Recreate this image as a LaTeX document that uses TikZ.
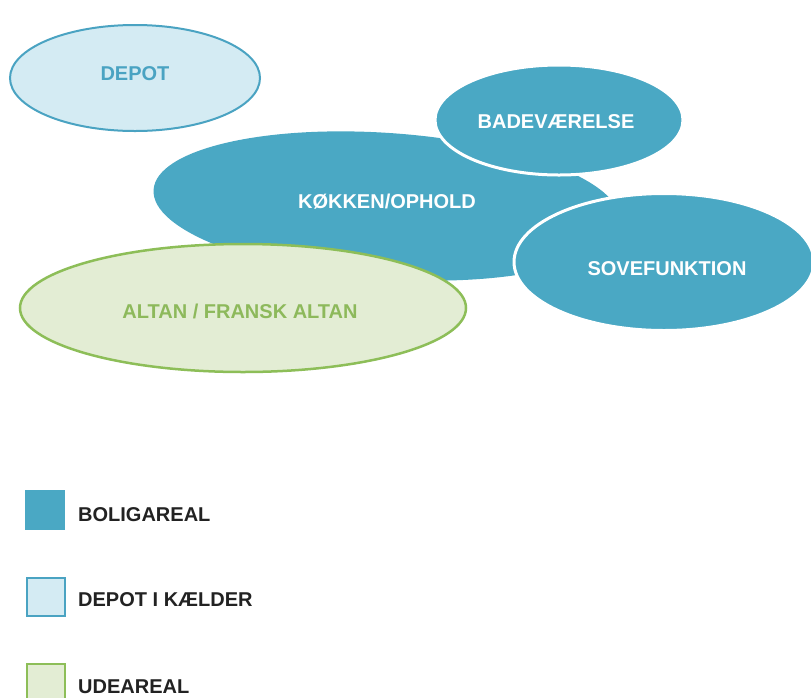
\documentclass[tikz,border=0pt]{standalone}
\usepackage{fontspec}
\setmainfont{Liberation Sans}
\usetikzlibrary{shapes.geometric}
\definecolor{bolig}{HTML}{4AA8C4}
\definecolor{depotfill}{HTML}{D4EBF3}
\definecolor{depotline}{HTML}{4AA3C2}
\definecolor{udefill}{HTML}{E3EDD4}
\definecolor{udeline}{HTML}{8DBE58}
\definecolor{udetext}{HTML}{8DB95B}
\definecolor{legtext}{HTML}{222222}
\tikzset{
  area/.style={ellipse, inner sep=0pt, outer sep=0pt},
  lbl/.style={font=\fontsize{20}{24}\selectfont\bfseries, anchor=base, inner sep=0pt},
  legbox/.style={minimum width=40pt, minimum height=40pt, inner sep=0pt, anchor=north west},
  legtxt/.style={font=\fontsize{20}{24}\selectfont\bfseries, text=legtext, anchor=base west, inner sep=0pt},
}
\begin{document}
\begin{tikzpicture}[x=1pt,y=-1pt]
\useasboundingbox (0,0) rectangle (811,697);
\clip (0,0) rectangle (811,697);
\fill[white] (0,0) rectangle (811,697);
% areas
\node[area, fill=depotfill, draw=depotline, line width=2pt, minimum width=250pt, minimum height=106pt] (depot) at (135,78) {};
\node[area, fill=bolig, minimum width=468pt, minimum height=146pt, rotate=-4] (kokken) at (387,206) {};
\node[area, fill=bolig, draw=white, line width=3pt, minimum width=248pt, minimum height=110pt] (bad) at (559,120) {};
\node[area, fill=bolig, draw=white, line width=3pt, minimum width=300pt, minimum height=137pt] (sove) at (664,262) {};
\node[area, fill=udefill, draw=udeline, line width=2.5pt, minimum width=446pt, minimum height=128pt] (altan) at (243,308) {};
% labels
\node[lbl, text=depotline] (depot-t) at (135,80) {DEPOT};
\node[lbl, text=white] (kokken-t) at (387,208) {KØKKEN/OPHOLD};
\node[lbl, text=white] (bad-t) at (556,128) {BADEVÆRELSE};
\node[lbl, text=white] (sove-t) at (667,275) {SOVEFUNKTION};
\node[lbl, text=udetext] (altan-t) at (240,318) {ALTAN / FRANSK ALTAN};
% legend
\node[legbox, fill=bolig] (leg1) at (25,490) {};
\node[legbox, fill=depotfill, draw=depotline, line width=2pt, minimum width=38pt, minimum height=38pt] (leg2) at (26,577) {};
\node[legbox, fill=udefill, draw=udeline, line width=2pt, minimum width=38pt, minimum height=40pt] (leg3) at (26,663) {};
\node[legtxt] (leg1-t) at (78,521) {BOLIGAREAL};
\node[legtxt] (leg2-t) at (78,606) {DEPOT I KÆLDER};
\node[legtxt] (leg3-t) at (78,693) {UDEAREAL};
\end{tikzpicture}
\end{document}
